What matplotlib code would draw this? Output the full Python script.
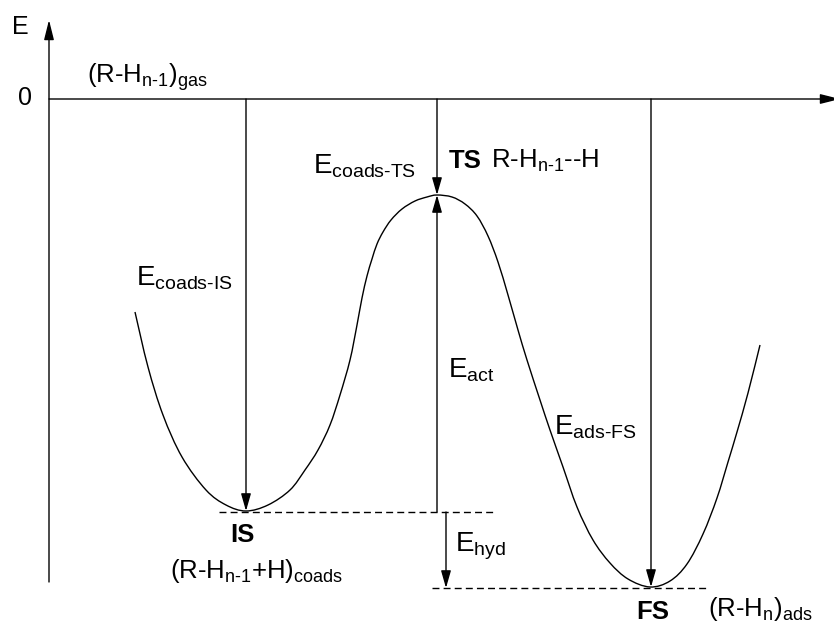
import numpy as np
import matplotlib
matplotlib.use("Agg")
import matplotlib.pyplot as plt
from matplotlib.path import Path
from matplotlib.patches import PathPatch

plt.rcParams['font.family'] = 'Liberation Sans'
plt.rcParams['mathtext.fontset'] = 'custom'
plt.rcParams['mathtext.rm'] = 'Liberation Sans'
plt.rcParams['mathtext.it'] = 'Liberation Sans:italic'
plt.rcParams['mathtext.bf'] = 'Liberation Sans:bold'

# energy levels (arbitrary units, gas phase = 0)
E_gas = 0.0
E_ts = -0.96
E_is = -4.13
E_fs = -4.89

# reaction coordinate of the states
x_is = 1.97
x_ts = 3.88
x_fs = 6.02
x_hyd = 3.97

# potential energy curve
curve_x = [0.86, 0.99, 1.14, 1.33, 1.57, 1.77, 1.97, 2.19, 2.41, 2.56, 2.69, 2.81,
           2.91, 3.01, 3.08, 3.13, 3.18, 3.23, 3.28, 3.34, 3.42, 3.53, 3.66, 3.78, 3.88,
           4.03, 4.16, 4.28, 4.39, 4.49, 4.59, 4.69, 4.78, 4.91, 5.01, 5.14, 5.28, 5.44,
           5.61, 5.79, 6.01, 6.21, 6.38, 6.54, 6.68, 6.79, 6.88, 6.99, 7.11]
curve_e = [-2.13, -2.68, -3.16, -3.58, -3.91, -4.06, -4.12, -4.06, -3.91, -3.71, -3.51, -3.26,
           -2.96, -2.61, -2.26, -1.99, -1.77, -1.60, -1.45, -1.33, -1.21, -1.10, -1.02, -0.98, -0.96,
           -0.98, -1.05, -1.17, -1.37, -1.63, -1.96, -2.31, -2.61, -3.01, -3.31, -3.68, -4.08, -4.41,
           -4.64, -4.80, -4.88, -4.82, -4.65, -4.35, -3.99, -3.63, -3.33, -2.94, -2.46]

# dashed reference levels (x start, x end)
is_level_x = [1.70, 4.46]
fs_level_x = [3.83, 6.59]


def arrow(ax, x0, y0, x1, y1, hl=1.05, hw=0.3):
    ax.annotate("", xy=(x1, y1), xytext=(x0, y0), annotation_clip=False,
                arrowprops=dict(arrowstyle="-|>,head_length=%g,head_width=%g" % (hl, hw),
                                lw=1.0, color="black", mutation_scale=10,
                                shrinkA=0, shrinkB=0))


def smooth_path(xs, ys):
    # bezier segments through the read points (catmull-rom tangents)
    p = np.column_stack([xs, ys])
    verts = [p[0]]
    codes = [Path.MOVETO]
    n = len(p)
    for i in range(n - 1):
        p0 = p[max(i - 1, 0)]
        p1 = p[i]
        p2 = p[i + 1]
        p3 = p[min(i + 2, n - 1)]
        c1 = p1 + (p2 - p0) / 6.0
        c2 = p2 - (p3 - p1) / 6.0
        verts += [c1, c2, p2]
        codes += [Path.CURVE4] * 3
    return Path(verts, codes)


def main():
    fig = plt.figure(figsize=(8.34, 6.24), dpi=100)
    ax = fig.add_axes([0, 0, 1, 1])
    ax.set_xlim(-0.49, 7.85)
    ax.set_ylim(-5.25, 0.99)
    ax.axis("off")

    # axes of the diagram
    arrow(ax, 0, -4.83, 0, 0.79, hl=1.2, hw=0.3)
    arrow(ax, 0, E_gas, 7.91, E_gas, hl=1.2, hw=0.3)

    # energy curve
    ax.add_patch(PathPatch(smooth_path(curve_x, curve_e), fill=False,
                           edgecolor="black", lw=1.0))

    # dashed levels
    ax.plot(is_level_x, [E_is, E_is], color="black", lw=1.0, ls=(0, (5, 3)))
    ax.plot(fs_level_x, [E_fs, E_fs], color="black", lw=1.0, ls=(0, (5, 3)))

    # energy arrows
    arrow(ax, x_is, E_gas, x_is, E_is + 0.01)
    arrow(ax, x_ts, E_gas, x_ts, E_ts)
    arrow(ax, x_fs, E_gas, x_fs, E_fs + 0.01)
    arrow(ax, x_ts, E_is, x_ts, E_ts)
    arrow(ax, x_hyd, E_is, x_hyd, E_fs)

    fs_big = 20
    fs_spec = 18.5
    fs_bold = 18.5
    ax.text(-0.37, 0.65, "E", fontsize=18, va="baseline")
    ax.text(-0.31, -0.06, "0", fontsize=18, va="baseline")
    ax.text(0.38, 0.16, r"$\mathrm{(R\text{-}H_{n\text{-}1})_{gas}}$", fontsize=fs_spec, va="baseline")

    ax.text(0.87, -1.865, r"$\mathrm{E_{coads\text{-}IS}}$", fontsize=fs_big, va="baseline")
    ax.text(2.64, -0.74, r"$\mathrm{E_{coads\text{-}TS}}$", fontsize=fs_big, va="baseline")
    ax.text(4.00, -0.69, "TS", fontsize=fs_bold, fontweight="bold", va="baseline")
    ax.text(4.42, -0.69, r"$\mathrm{R\text{-}H_{n\text{-}1}\text{--}H}$", fontsize=fs_spec, va="baseline")
    ax.text(3.99, -2.78, r"$\mathrm{E_{act}}$", fontsize=fs_big, va="baseline")
    ax.text(5.05, -3.35, r"$\mathrm{E_{ads\text{-}FS}}$", fontsize=fs_big, va="baseline")
    ax.text(4.06, -4.53, r"$\mathrm{E_{hyd}}$", fontsize=fs_big, va="baseline")

    ax.text(1.81, -4.43, "IS", fontsize=fs_bold, fontweight="bold", va="baseline")
    ax.text(1.21, -4.79, r"$\mathrm{(R\text{-}H_{n\text{-}1}\text{+}H)_{coads}}$", fontsize=fs_spec, va="baseline")
    ax.text(5.87, -5.20, "FS", fontsize=fs_bold, fontweight="bold", va="baseline")
    ax.text(6.59, -5.17, r"$\mathrm{(R\text{-}H_{n})_{ads}}$", fontsize=fs_spec, va="baseline")

    fig.savefig("out.png", dpi=100)


main()
